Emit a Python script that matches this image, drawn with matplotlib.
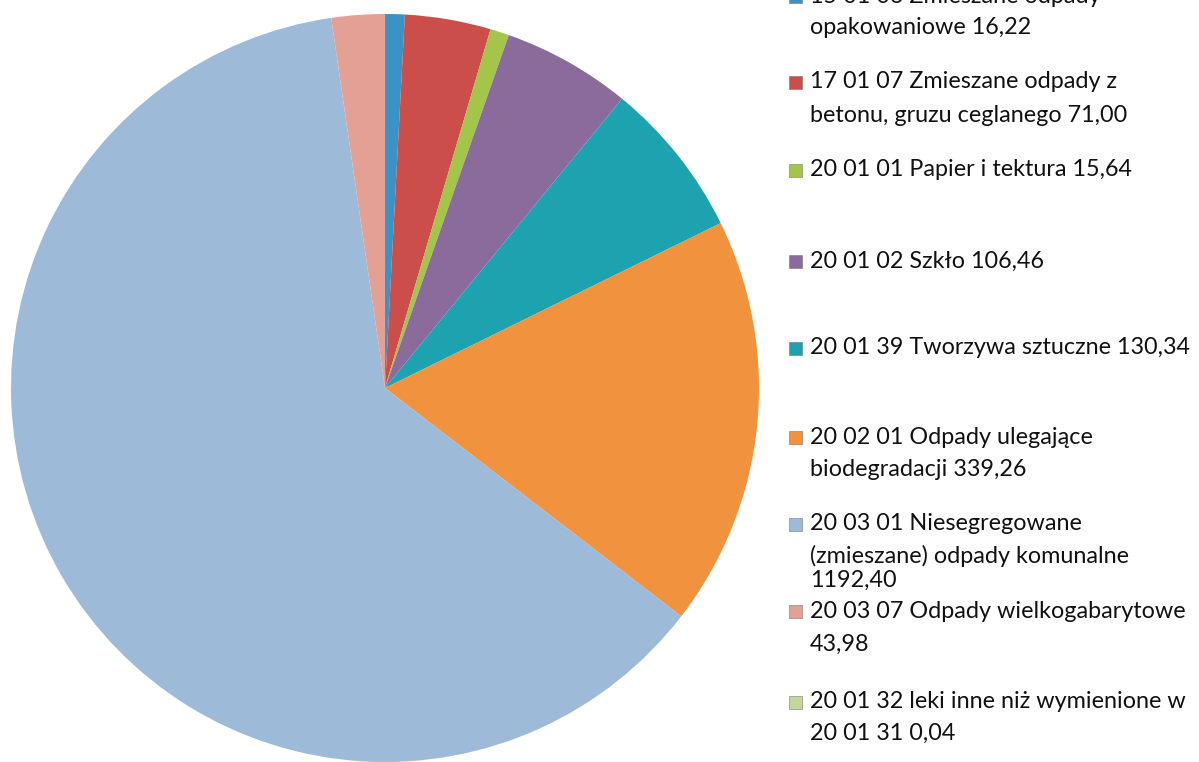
import matplotlib
matplotlib.use("Agg")
import matplotlib.pyplot as plt
from matplotlib.patches import Rectangle

labels = [
    "15 01 06 Zmieszane odpady\nopakowaniowe 16,22",
    "17 01 07 Zmieszane odpady z\nbetonu, gruzu ceglanego 71,00",
    "20 01 01 Papier i tektura 15,64",
    "20 01 02 Szkło 106,46",
    "20 01 39 Tworzywa sztuczne 130,34",
    "20 02 01 Odpady ulegające\nbiodegradacji 339,26",
    "20 03 01 Niesegregowane\n(zmieszane) odpady komunalne\n1192,40",
    "20 03 07 Odpady wielkogabarytowe\n43,98",
    "20 01 32 leki inne niż wymienione w\n20 01 31 0,04",
]
values = [16.22, 71.00, 15.64, 106.46, 130.34, 339.26, 1192.40, 43.98, 0.04]
colors = ["#3B92C6", "#CC4E4A", "#A3C54A", "#8A6B9B", "#1DA2B0",
          "#F0923E", "#9DBAD8", "#E5A096", "#C4D79B"]

W, H = 1199, 762
fig = plt.figure(figsize=(W / 100, H / 100), dpi=100)
fig.patch.set_facecolor("white")

cx, cy, r = 385, 388, 374
ax = fig.add_axes([(cx - r) / W, (H - cy - r) / H, 2 * r / W, 2 * r / H])
ax.pie(values, colors=colors, startangle=90, counterclock=False,
       wedgeprops=dict(linewidth=0), radius=1)
ax.set_xlim(-1, 1)
ax.set_ylim(-1, 1)
ax.set_aspect("equal")
ax.axis("off")

# legend (manual layout: y of first line centre in pixels from top)
line_y = [-4, 82, 170, 261, 348, 437, 524, 611, 702]
line_gap = [32, 34, 0, 0, 0, 33, [32, 56], 33, 31]
font = dict(family=["Lato", "DejaVu Sans"], fontsize=16.8, color="#111111")
for lab, col, y0, gap in zip(labels, colors, line_y, line_gap):
    lines = lab.split("\n")
    sq = 13
    fig.patches.append(Rectangle((789 / W, (H - y0 - sq / 2) / H), sq / W, sq / H,
                                 transform=fig.transFigure, facecolor=col,
                                 edgecolor="#777777", linewidth=0.4))
    for i, ln in enumerate(lines):
        if i == 0:
            yy = y0
        elif isinstance(gap, list):
            yy = y0 + gap[i - 1]
        else:
            yy = y0 + gap * i
        fig.text(810 / W, (H - yy) / H, ln, ha="left", va="center", **font)

fig.savefig("out.png", dpi=100, facecolor="white")
